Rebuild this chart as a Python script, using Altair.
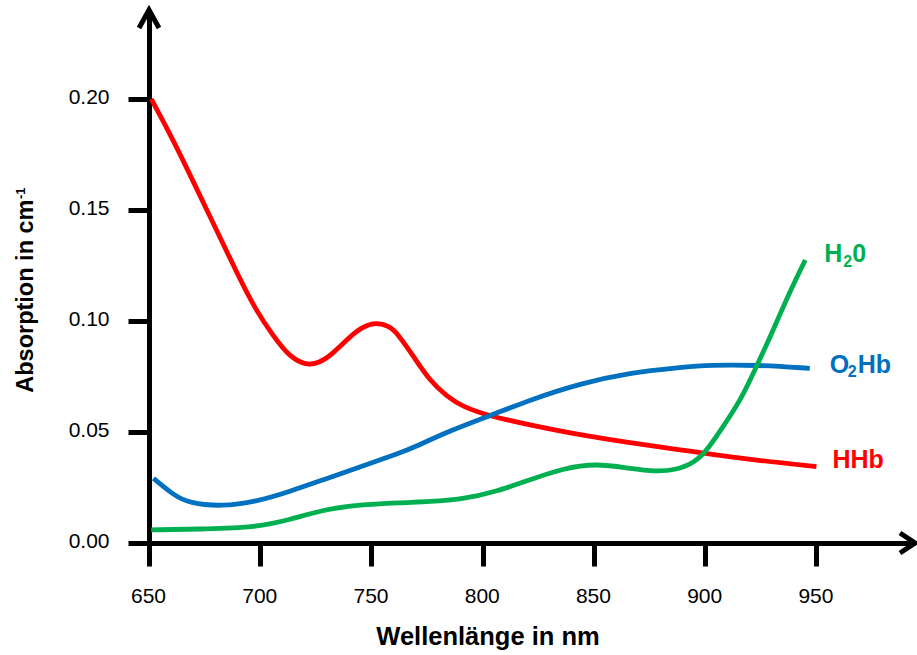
import altair as alt
import pandas as pd

# Absorption spectra of deoxy-haemoglobin, oxy-haemoglobin and water (near infrared)
hhb_nm = [651, 661, 676, 691, 698, 706, 713, 722, 731, 740, 746, 752, 758, 762,
          769, 776, 784, 791, 803, 821, 844, 866, 889, 900, 925, 950]
hhb_val = [0.200, 0.1815, 0.150, 0.1185, 0.105, 0.093, 0.0839, 0.0791, 0.0834,
           0.0928, 0.0975, 0.0994, 0.0978, 0.0940, 0.0839, 0.0734, 0.0659, 0.0614,
           0.0572, 0.0532, 0.0486, 0.0452, 0.0419, 0.0404, 0.0370, 0.0344]

o2hb_nm = [652, 661, 668, 683, 698, 713, 728, 743, 763, 769, 784, 803, 821, 844,
           866, 889, 902, 923, 947]
o2hb_val = [0.0291, 0.0216, 0.0179, 0.0164, 0.0186, 0.0231, 0.0284, 0.0336,
            0.0406, 0.0430, 0.0501, 0.0572, 0.0644, 0.0719, 0.0767, 0.0791,
            0.0802, 0.0802, 0.0787]

h2o_nm = [651, 676, 698, 713, 728, 743, 763, 776, 791, 806, 821, 836, 851, 866,
          878, 887, 895, 901, 908, 916, 923, 928, 937, 945]
h2o_val = [0.0059, 0.0063, 0.0071, 0.0104, 0.0149, 0.0171, 0.0182, 0.0186,
           0.0197, 0.0231, 0.0284, 0.0336, 0.0359, 0.0336, 0.0321, 0.0330,
           0.0360, 0.0419, 0.0524, 0.0644, 0.0795, 0.0900, 0.1110, 0.1275]

x_ticks = [650, 700, 750, 800, 850, 900, 950]
y_ticks = [0.00, 0.05, 0.10, 0.15, 0.20]

RED = "#FF0000"
BLUE = "#0070C0"
GREEN = "#00B050"
FONT = "Liberation Sans"

X_MIN, X_MAX = 650, 994.3
Y_MIN, Y_MAX = 0.0, 0.2401
W, H = 766, 533

x_scale = alt.Scale(domain=[X_MIN, X_MAX], nice=False, zero=False)
y_scale = alt.Scale(domain=[Y_MIN, Y_MAX], nice=False, zero=False)

x_axis = alt.Axis(values=x_ticks, title=None, grid=False, domainColor="black",
                  domainWidth=5, tickColor="black", tickWidth=5, tickSize=23,
                  labelPadding=19, labelFont=FONT, labelFontSize=21,
                  labelColor="black", labelBaseline="top", labelFlush=False,
                  labelOffset=-1, format="d")
y_axis = alt.Axis(values=y_ticks, title=None, grid=False, domainColor="black",
                  domainWidth=5, tickColor="black", tickWidth=5, tickSize=21,
                  labelPadding=19, labelFont=FONT, labelFontSize=21,
                  labelColor="black", labelOffset=-2, labelFlush=False,
                  format=".2f")

X = alt.X("nm:Q", scale=x_scale, axis=x_axis)
Y = alt.Y("val:Q", scale=y_scale, axis=y_axis)

series = [("HHb", hhb_nm, hhb_val, RED),
          ("O2Hb", o2hb_nm, o2hb_val, BLUE),
          ("H2O", h2o_nm, h2o_val, GREEN)]

layers = []
for name, xs, ys, col in series:
    df = pd.DataFrame({"nm": xs, "val": ys})
    layers.append(
        alt.Chart(df).mark_line(color=col, strokeWidth=4.8, interpolate="basis",
                                strokeCap="butt")
        .encode(x=X, y=Y)
    )

# arrow heads at the ends of both axes
x_arrow = pd.DataFrame({"nm": [X_MAX], "val": [Y_MIN]})
y_arrow = pd.DataFrame({"nm": [X_MIN], "val": [Y_MAX]})
layers.append(
    alt.Chart(x_arrow).mark_point(shape="M -1.5 -1 L 0 0 L -1.5 1", size=400,
                                  filled=False, color="black", strokeWidth=5,
                                  opacity=1)
    .encode(x=X, y=Y)
)
layers.append(
    alt.Chart(y_arrow).mark_point(shape="M -1 1.8 L 0 0 L 1 1.8", size=400,
                                  filled=False, color="black", strokeWidth=5,
                                  opacity=1)
    .encode(x=X, y=Y)
)


def end_label(xs, ys, text, dx, dy, size, color):
    df = pd.DataFrame({"nm": [xs[-1]], "val": [ys[-1]]})
    return (alt.Chart(df)
            .mark_text(text=text, dx=dx, dy=dy, fontSize=size, fontWeight="bold",
                       color=color, align="left", baseline="alphabetic", font=FONT)
            .encode(x=X, y=Y))


# series names with subscripts
layers += [
    end_label(h2o_nm, h2o_val, "H", 19, 2, 25, GREEN),
    end_label(h2o_nm, h2o_val, "2", 38, 7, 16, GREEN),
    end_label(h2o_nm, h2o_val, "0", 47, 2, 25, GREEN),
    end_label(o2hb_nm, o2hb_val, "O", 20, 5, 25, BLUE),
    end_label(o2hb_nm, o2hb_val, "2", 38, 9, 16, BLUE),
    end_label(o2hb_nm, o2hb_val, "Hb", 48, 5, 25, BLUE),
    end_label(hhb_nm, hhb_val, "HHb", 16, 1, 25, RED),
]

one = pd.DataFrame({"k": [0]})
# axis titles
layers += [
    alt.Chart(one).mark_text(text="Wellenlänge in nm", fontSize=25.5, fontWeight="bold",
                             font=FONT, color="black", align="center",
                             baseline="alphabetic")
    .encode(x=alt.value(339), y=alt.value(635)),
    alt.Chart(one).mark_text(text="Absorption in cm", fontSize=23.5, fontWeight="bold",
                             font=FONT, color="black", align="right",
                             baseline="alphabetic", angle=270)
    .encode(x=alt.value(-116), y=alt.value(189.5)),
    alt.Chart(one).mark_text(text="-1", fontSize=13, fontWeight="bold",
                             font=FONT, color="black", align="left",
                             baseline="alphabetic", angle=270)
    .encode(x=alt.value(-124), y=alt.value(189)),
]

chart = (
    alt.layer(*layers)
    .properties(width=W, height=H,
                autosize=alt.AutoSizeParams(type="none"),
                padding={"left": 149, "top": 10, "right": 2, "bottom": 112},
                background="white")
    .configure_view(stroke=None)
)

chart.save("out.html", embed_options={"renderer": "svg", "actions": False})
